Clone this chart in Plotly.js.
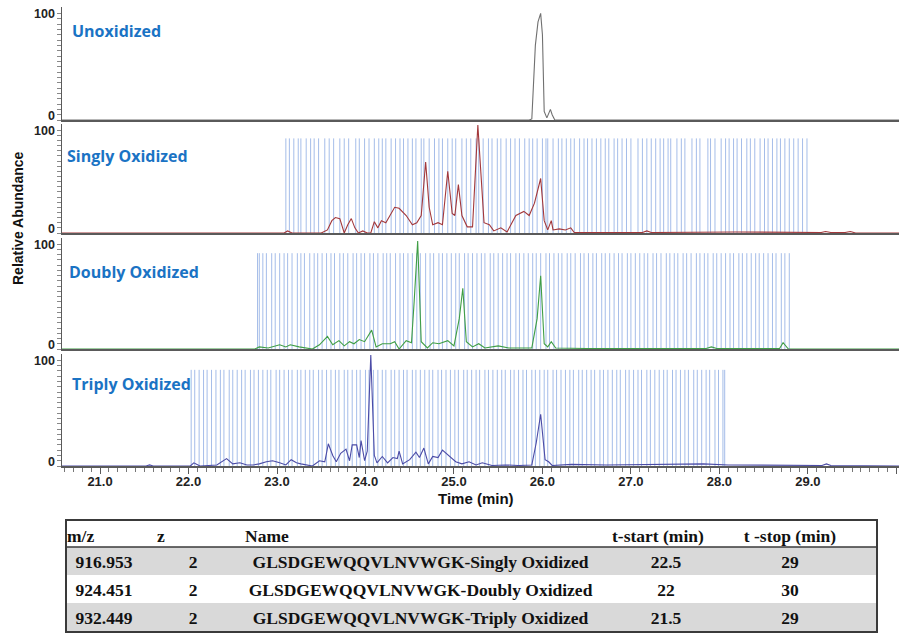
<!DOCTYPE html>
<html>
<head>
<meta charset="utf-8">
<script src="https://cdn.plot.ly/plotly-3.0.1.min.js"></script>
<style>html,body{margin:0;padding:0;background:#fff;}#chart{width:899px;height:634px;}</style>
</head>
<body>
<div id="chart"></div>
<script>
// ---------- DATA ----------
const panelLabels = ["Unoxidized", "Singly Oxidized", "Doubly Oxidized", "Triply Oxidized"];

const time1 = [20.57, 25.85, 25.88, 25.92, 25.95, 25.98, 26.00, 26.02, 26.05, 26.09, 26.11, 26.14, 26.17, 30.03];
const abund1 = [0, 0, 1, 70, 92, 100, 80, 8, 2, 10, 5, 0, 0, 0];

const time2 = [20.57, 23.08, 23.12, 23.17, 23.50, 23.57, 23.62, 23.66, 23.71, 23.76, 23.80, 23.84, 23.88, 23.92, 23.97, 24.02, 24.06, 24.10, 24.14, 24.18, 24.23, 24.28, 24.33, 24.38, 24.46, 24.53, 24.58, 24.63, 24.68, 24.72, 24.76, 24.82, 24.87, 24.93, 24.98, 25.01, 25.05, 25.09, 25.15, 25.21, 25.27, 25.34, 25.40, 25.45, 25.53, 25.60, 25.70, 25.79, 25.85, 25.91, 25.98, 26.02, 26.06, 26.10, 26.12, 26.19, 26.26, 26.32, 26.36, 26.64, 27.13, 27.18, 27.23, 28.18, 29.15, 29.20, 29.26, 29.42, 29.48, 29.54, 30.03];
const abund2 = [0, 0, 2, 0, 0, 3, 12, 15, 14, 0, 8, 14, 5, 0, 2, 0, 0, 11, 5, 12, 10, 18, 25, 24, 17, 8, 10, 17, 69, 25, 8, 10, 8, 60, 19, 17, 47, 17, 6, 6, 105, 10, 8, 2, 5, 1, 17, 21, 17, 29, 53, 12, 3, 12, 3, 4, 3, 5, 0.5, 0.5, 0.5, 2, 0.5, 1, 0.5, 1.5, 0.5, 0.5, 1.5, 0, 0];

const time3 = [20.57, 22.75, 22.80, 22.90, 23.03, 23.10, 23.15, 23.25, 23.40, 23.48, 23.57, 23.63, 23.70, 23.76, 23.82, 23.87, 23.93, 23.99, 24.07, 24.12, 24.19, 24.28, 24.33, 24.38, 24.46, 24.52, 24.55, 24.59, 24.63, 24.70, 24.76, 24.83, 24.93, 25.00, 25.06, 25.10, 25.14, 25.21, 25.28, 25.35, 25.50, 25.62, 25.88, 25.94, 25.98, 26.02, 26.06, 26.10, 26.15, 26.50, 27.85, 27.91, 27.97, 28.68, 28.72, 28.78, 30.03];
const abund3 = [0, 0, 2, 1, 4, 2, 4, 2, 0, 4, 12, 4, 8, 3, 7, 5, 9, 7, 18, 2, 5, 5, 7, 0, 8, 6, 45, 103, 7, 1, 6, 5, 8, 3, 29, 58, 7, 2, 5, 1, 3, 1, 1, 29, 70, 5, 2, 7, 1, 0.5, 0.5, 2, 0.5, 0.5, 6, 0, 0];

const time4 = [20.57, 21.52, 21.56, 21.60, 22.02, 22.06, 22.13, 22.32, 22.43, 22.50, 22.58, 22.66, 22.73, 22.80, 22.88, 22.95, 23.03, 23.10, 23.16, 23.22, 23.27, 23.33, 23.40, 23.48, 23.54, 23.58, 23.63, 23.67, 23.72, 23.78, 23.82, 23.85, 23.90, 23.93, 23.95, 23.99, 24.02, 24.06, 24.10, 24.13, 24.19, 24.25, 24.31, 24.36, 24.38, 24.42, 24.50, 24.57, 24.61, 24.66, 24.71, 24.76, 24.82, 24.87, 24.95, 25.02, 25.09, 25.17, 25.25, 25.32, 25.43, 25.58, 25.73, 25.88, 25.93, 25.98, 26.03, 26.07, 26.11, 26.33, 26.72, 27.46, 27.82, 28.10, 28.22, 29.16, 29.21, 29.26, 30.03];
const abund4 = [0, 0, 1, 0, 0, 3, 0, 1, 7, 2, 3, 1, 1, 2, 4, 5, 3, 1, 6, 3, 2, 1, 0, 5, 4, 21, 10, 4, 12, 16, 5, 20, 20, 8, 24, 5, 14, 105, 10, 3, 9, 3, 8, 7, 14, 2, 6, 13, 8, 17, 2, 9, 8, 15, 9, 4, 2, 4, 1, 3, 0.5, 1, 0.5, 1, 22, 49, 6, 4, 0.5, 1.5, 1, 1.5, 2, 1, 1, 0.5, 2, 0.5, 0];

// MS/MS scan event times (blue markers)
const scans2 = [23.10, 23.14, 23.19, 23.24, 23.27, 23.33, 23.38, 23.42, 23.47, 23.54, 23.59, 23.64, 23.71, 23.76, 23.81, 23.89, 23.93, 23.99, 24.04, 24.10, 24.15, 24.19, 24.23, 24.29, 24.34, 24.39, 24.43, 24.48, 24.53, 24.57, 24.63, 24.66, 24.72, 24.78, 24.83, 24.87, 24.93, 24.98, 25.02, 25.09, 25.14, 25.19, 25.25, 25.28, 25.33, 25.39, 25.43, 25.49, 25.53, 25.59, 25.64, 25.69, 25.74, 25.80, 25.85, 25.89, 25.94, 26.00, 26.04, 26.06, 26.12, 26.18, 26.22, 26.27, 26.32, 26.36, 26.42, 26.47, 26.51, 26.56, 26.61, 26.66, 26.71, 26.75, 26.81, 26.85, 26.90, 26.95, 27.00, 27.08, 27.13, 27.18, 27.23, 27.28, 27.33, 27.37, 27.42, 27.45, 27.52, 27.57, 27.61, 27.69, 27.74, 27.78, 27.87, 27.90, 27.95, 28.02, 28.07, 28.11, 28.16, 28.20, 28.25, 28.31, 28.35, 28.40, 28.46, 28.51, 28.55, 28.60, 28.65, 28.69, 28.74, 28.79, 28.84, 28.89, 28.94, 28.99];
const scans3 = [22.78, 22.80, 22.84, 22.88, 22.94, 22.98, 23.03, 23.08, 23.12, 23.17, 23.23, 23.27, 23.31, 23.37, 23.42, 23.46, 23.51, 23.56, 23.61, 23.65, 23.71, 23.75, 23.80, 23.86, 23.90, 23.95, 23.99, 24.05, 24.09, 24.14, 24.20, 24.24, 24.28, 24.34, 24.39, 24.43, 24.48, 24.53, 24.58, 24.62, 24.68, 24.73, 24.77, 24.83, 24.87, 24.92, 24.97, 25.02, 25.06, 25.12, 25.16, 25.21, 25.26, 25.31, 25.35, 25.41, 25.45, 25.50, 25.55, 25.60, 25.64, 25.70, 25.74, 25.79, 25.84, 25.89, 25.93, 25.98, 26.04, 26.08, 26.13, 26.18, 26.22, 26.28, 26.32, 26.37, 26.43, 26.47, 26.52, 26.57, 26.61, 26.67, 26.71, 26.76, 26.81, 26.86, 26.90, 26.96, 27.00, 27.05, 27.10, 27.15, 27.19, 27.25, 27.29, 27.34, 27.40, 27.44, 27.49, 27.53, 27.59, 27.63, 27.68, 27.74, 27.78, 27.83, 27.87, 27.93, 27.97, 28.02, 28.07, 28.12, 28.16, 28.22, 28.26, 28.31, 28.36, 28.41, 28.45, 28.50, 28.55, 28.60, 28.64, 28.70, 28.74, 28.79];
const scans4 = [22.03, 22.07, 22.12, 22.17, 22.21, 22.26, 22.31, 22.36, 22.40, 22.46, 22.50, 22.55, 22.60, 22.64, 22.70, 22.74, 22.79, 22.84, 22.89, 22.93, 22.99, 23.03, 23.08, 23.13, 23.17, 23.23, 23.27, 23.32, 23.37, 23.41, 23.47, 23.51, 23.56, 23.61, 23.66, 23.70, 23.76, 23.80, 23.85, 23.90, 23.94, 24.00, 24.04, 24.09, 24.14, 24.19, 24.23, 24.29, 24.33, 24.38, 24.43, 24.47, 24.53, 24.57, 24.62, 24.67, 24.72, 24.76, 24.82, 24.86, 24.91, 24.96, 25.01, 25.05, 25.11, 25.15, 25.20, 25.25, 25.29, 25.35, 25.39, 25.44, 25.49, 25.54, 25.58, 25.64, 25.68, 25.73, 25.78, 25.82, 25.88, 25.92, 25.97, 26.02, 26.06, 26.12, 26.16, 26.21, 26.26, 26.31, 26.35, 26.41, 26.45, 26.50, 26.55, 26.59, 26.65, 26.69, 26.74, 26.79, 26.84, 26.88, 26.94, 26.98, 27.03, 27.08, 27.12, 27.18, 27.22, 27.27, 27.32, 27.37, 27.41, 27.47, 27.51, 27.56, 27.61, 27.65, 27.71, 27.75, 27.80, 27.85, 27.89, 27.95, 27.99, 28.04, 28.06];
const scanTops = [92, 91.5, 91];

// Table
const colMz = ["916.953", "924.451", "932.449"];
const colZ = ["2", "2", "2"];
const colName = ["GLSDGEWQQVLNVWGK-Singly Oxidized", "GLSDGEWQQVLNVWGK-Doubly Oxidized", "GLSDGEWQQVLNVWGK-Triply Oxidized"];
const colStart = ["22.5", "22", "21.5"];
const colStop = ["29", "30", "29"];
const tableHeader = ["m/z", "z", "Name", "t-start (min)", "t -stop (min)", ""];

// y tick marks (every 5); labels only at 0 and 100
const yTickVals = [0, 5, 10, 15, 20, 25, 30, 35, 40, 45, 50, 55, 60, 65, 70, 75, 80, 85, 90, 95, 100];
const yLabelVals = [0, 100];
const yLabelText = ["0", "100"];

// ---------- BUILD ----------
const W = 899, H = 634;
const py = p => 1 - p / H;
const XR = [20.57, 30.03];
const dom = [[7, 120], [124, 233], [238, 349], [354, 466]]; // pixel top/bottom per panel

function scanSegs(times, top) {
  const xs = [], ys = [];
  times.forEach(t => { xs.push(t, t, null); ys.push(0, top, null); });
  return { xs, ys };
}

const traces = [];
const scanSets = [scans2, scans3, scans4];
scanSets.forEach((s, i) => {
  const seg = scanSegs(s, scanTops[i]);
  const k = i + 2;
  traces.push({
    type: 'scatter', mode: 'lines', x: seg.xs, y: seg.ys,
    xaxis: 'x' + k, yaxis: 'y' + k, connectgaps: false,
    line: { color: 'rgba(105,145,218,0.6)', width: 1 }, hoverinfo: 'skip'
  });
});
const series = [[time1, abund1, '#707070'], [time2, abund2, '#a3383b'], [time3, abund3, '#3f9e45'], [time4, abund4, '#4b4ba6']];
series.forEach((s, i) => {
  const k = i + 1;
  traces.push({
    type: 'scatter', mode: 'lines', x: s[0], y: s[1],
    xaxis: 'x' + k, yaxis: 'y' + k,
    line: { color: s[2], width: 1.1 }
  });
});

const colWidths = [90, 88, 367, 124, 124, 25];
const rowFill = ['#d9d9d9', '#ffffff', '#d9d9d9'];
const tFont = { family: 'Liberation Serif, Times New Roman, serif', size: 17.5, color: '#111', weight: 'bold' };
traces.push({
  type: 'table',
  domain: { x: [59 / W, 877 / W], y: [py(632), py(521)] },
  columnwidth: colWidths,
  header: {
    values: tableHeader,
    align: ['left', 'left', 'left', 'left', 'center', 'left'],
    height: 26,
    fill: { color: '#ffffff' },
    line: { width: 0, color: 'rgba(0,0,0,0)' },
    font: tFont
  },
  cells: {
    values: [colMz, colZ, colName, colStart, colStop, ["", "", ""]],
    align: 'center',
    height: 28,
    fill: { color: [rowFill, rowFill, rowFill, rowFill, rowFill, rowFill] },
    line: { width: 0, color: 'rgba(0,0,0,0)' },
    font: tFont
  }
});

const tickFont = { family: 'Liberation Sans, Arial, sans-serif', size: 12.5, color: '#222', weight: 'bold' };
const layout = {
  width: W, height: H,
  margin: { l: 0, r: 0, t: 0, b: 0 },
  paper_bgcolor: '#fff', plot_bgcolor: 'rgba(0,0,0,0)',
  showlegend: false,
  annotations: [],
  shapes: [
    { type: 'rect', xref: 'paper', yref: 'paper', x0: 50 / W, x1: 65 / W, y0: py(634), y1: py(515), fillcolor: '#ffffff', line: { width: 0 } },
    { type: 'rect', xref: 'paper', yref: 'paper', x0: 66 / W, x1: 877 / W, y0: py(632), y1: py(520), line: { color: '#3a3a3a', width: 2 } },
    { type: 'line', xref: 'paper', yref: 'paper', x0: 66 / W, x1: 877 / W, y0: py(547), y1: py(547), line: { color: '#3a3a3a', width: 1.5 } }
  ]
};

for (let k = 1; k <= 4; k++) {
  const d = dom[k - 1];
  const isBottom = k === 4;
  layout['xaxis' + k] = {
    domain: [62 / W, 1], range: XR, anchor: 'y' + k,
    showline: true, linecolor: '#5a5a5a', linewidth: 1.5,
    showgrid: false, zeroline: false,
    ticks: isBottom ? 'outside' : '', ticklen: 6, tickcolor: '#5a5a5a',
    tick0: 21, dtick: 1, tickformat: '.1f', ticklabelstandoff: -3,
    showticklabels: isBottom, tickfont: Object.assign({}, tickFont, { size: 13 }),
    minor: isBottom ? { tick0: 21, dtick: 0.1, ticks: 'outside', ticklen: 4, tickcolor: '#777', showgrid: false } : undefined
  };
  layout['yaxis' + k] = {
    domain: [py(d[1]), py(d[0])], range: [0, 106], anchor: 'x' + k,
    showline: true, linecolor: '#5a5a5a', linewidth: 1.5,
    showgrid: false, zeroline: false,
    tickmode: 'array', tickvals: yTickVals, showticklabels: false,
    ticks: 'outside', ticklen: 4, tickcolor: '#888'
  };
  // y tick labels: "0" sits slightly above its tick, as in the reference
  yLabelVals.forEach((v, j) => {
    layout.annotations.push({
      text: yLabelText[j], xref: 'paper', yref: 'y' + k, x: 57 / W, y: v,
      xanchor: 'right', yanchor: 'middle', yshift: v === 0 ? 4 : -1, showarrow: false,
      font: tickFont
    });
  });
}

const labelPos = [[70, 31], [65, 156], [67, 272], [70, 384]];
panelLabels.forEach((t, i) => {
  layout.annotations.push({
    text: t, xref: 'paper', yref: 'paper', x: labelPos[i][0] / W, y: py(labelPos[i][1]),
    xanchor: 'left', yanchor: 'middle', showarrow: false,
    font: { family: 'Open Sans, sans-serif', size: 16, color: '#1a73c4', weight: 'bold' }
  });
});
layout.annotations.push({
  text: 'Relative Abundance', xref: 'paper', yref: 'paper', x: 18 / W, y: py(218),
  xanchor: 'center', yanchor: 'middle', textangle: -90, showarrow: false,
  font: { family: 'Liberation Sans, Arial, sans-serif', size: 14, color: '#111', weight: 'bold' }
});
layout.annotations.push({
  text: 'Time (min)', xref: 'paper', yref: 'paper', x: 476 / W, y: py(498),
  xanchor: 'center', yanchor: 'middle', showarrow: false,
  font: { family: 'Liberation Sans, Arial, sans-serif', size: 15, color: '#111', weight: 'bold' }
});

Plotly.newPlot('chart', traces, layout, { displayModeBar: false, staticPlot: true });
</script>
</body>
</html>
